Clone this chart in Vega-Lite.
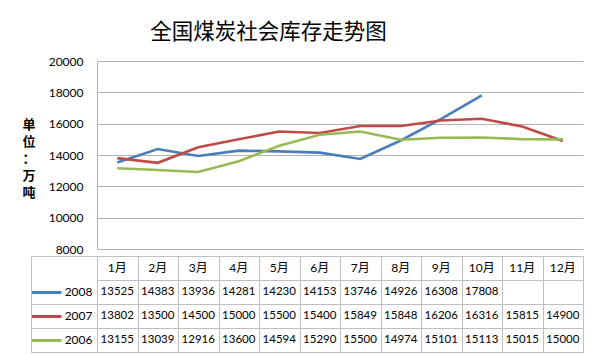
{
  "$schema": "https://vega.github.io/schema/vega-lite/v6.json",
  "background": "white",
  "padding": {"left": 22, "top": 21, "right": 12, "bottom": 4},
  "title": {"text": "全国煤炭社会库存走势图", "font": "Noto Sans CJK SC", "fontSize": 21.5, "fontWeight": "normal", "color": "#000000", "anchor": "middle", "dx": -34, "offset": 12},
  "spacing": 0,
  "config": {"view": {"stroke": null}, "font": "Lato"},
  "resolve": {"scale": {"x": "independent", "y": "independent"}},
  "data": {"values": [
    {"series": "2008", "month": "1月", "value": 13525},
    {"series": "2008", "month": "2月", "value": 14383},
    {"series": "2008", "month": "3月", "value": 13936},
    {"series": "2008", "month": "4月", "value": 14281},
    {"series": "2008", "month": "5月", "value": 14230},
    {"series": "2008", "month": "6月", "value": 14153},
    {"series": "2008", "month": "7月", "value": 13746},
    {"series": "2008", "month": "8月", "value": 14926},
    {"series": "2008", "month": "9月", "value": 16308},
    {"series": "2008", "month": "10月", "value": 17808},
    {"series": "2007", "month": "1月", "value": 13802},
    {"series": "2007", "month": "2月", "value": 13500},
    {"series": "2007", "month": "3月", "value": 14500},
    {"series": "2007", "month": "4月", "value": 15000},
    {"series": "2007", "month": "5月", "value": 15500},
    {"series": "2007", "month": "6月", "value": 15400},
    {"series": "2007", "month": "7月", "value": 15849},
    {"series": "2007", "month": "8月", "value": 15848},
    {"series": "2007", "month": "9月", "value": 16206},
    {"series": "2007", "month": "10月", "value": 16316},
    {"series": "2007", "month": "11月", "value": 15815},
    {"series": "2007", "month": "12月", "value": 14900},
    {"series": "2006", "month": "1月", "value": 13155},
    {"series": "2006", "month": "2月", "value": 13039},
    {"series": "2006", "month": "3月", "value": 12916},
    {"series": "2006", "month": "4月", "value": 13600},
    {"series": "2006", "month": "5月", "value": 14594},
    {"series": "2006", "month": "6月", "value": 15290},
    {"series": "2006", "month": "7月", "value": 15500},
    {"series": "2006", "month": "8月", "value": 14974},
    {"series": "2006", "month": "9月", "value": 15101},
    {"series": "2006", "month": "10月", "value": 15113},
    {"series": "2006", "month": "11月", "value": 15015},
    {"series": "2006", "month": "12月", "value": 15000}
  ]},
  "vconcat": [
    {
      "width": 486,
      "height": 188,
      "mark": {"type": "line", "strokeWidth": 2.6},
      "encoding": {
        "x": {"field": "month", "type": "nominal",
              "scale": {"type": "band", "domain": ["1月","2月","3月","4月","5月","6月","7月","8月","9月","10月","11月","12月"], "paddingInner": 0, "paddingOuter": 0},
              "axis": null},
        "y": {"field": "value", "type": "quantitative",
              "scale": {"domain": [8000, 20000], "nice": false, "zero": false},
              "axis": {"values": [8000, 10000, 12000, 14000, 16000, 18000, 20000], "format": "d", "grid": true, "gridColor": "#b3b3b3", "domainColor": "#b3b3b3", "ticks": false, "labelPadding": 14, "labelFont": "Lato", "labelFontSize": 12, "labelColor": "#000000",
                       "title": ["单", "位", "：", "万", "吨"], "titleAngle": 0, "titleX": -75, "titleY": 63, "titleAlign": "left", "titleBaseline": "middle", "titleFont": "Noto Sans CJK SC", "titleFontSize": 13, "titleFontWeight": "bold", "titleLineHeight": 17, "titleColor": "#000000"}},
        "color": {"field": "series", "type": "nominal",
                  "scale": {"domain": ["2008", "2007", "2006"], "range": ["#4a7ebb", "#be4b48", "#98b954"]},
                  "legend": null}
      }
    },
    {
      "width": 486,
      "height": 96,
      "layer": [
        {
          "mark": {"type": "text", "font": "Lato", "fontSize": 11.5, "color": "#000000"},
          "encoding": {
            "x": {"field": "month", "type": "nominal",
                  "scale": {"type": "band", "domain": ["1月","2月","3月","4月","5月","6月","7月","8月","9月","10月","11月","12月"], "paddingInner": 0, "paddingOuter": 0},
                  "axis": {"grid": true, "tickBand": "extent", "labels": false, "ticks": false, "domain": false, "gridColor": "#bfbfbf", "title": null}},
            "y": {"field": "series", "type": "nominal",
                  "scale": {"type": "band", "domain": ["h", "2008", "2007", "2006"], "paddingInner": 0, "paddingOuter": 0},
                  "axis": {"orient": "left", "offset": 66, "title": null, "grid": false, "domain": true, "domainColor": "#bfbfbf", "ticks": true, "tickSize": -30, "tickWidth": 3,
                           "tickColor": {"condition": [{"test": "datum.value == '2008'", "value": "#4a7ebb"}, {"test": "datum.value == '2007'", "value": "#be4b48"}, {"test": "datum.value == '2006'", "value": "#98b954"}], "value": "transparent"},
                           "labelExpr": "datum.value == 'h' ? '' : datum.value", "labelPadding": -31, "labelFont": "Lato", "labelFontSize": 12, "labelColor": "#000000"}},
            "text": {"field": "value", "type": "quantitative", "format": "d"}
          }
        },
        {
          "transform": [{"filter": "datum.series == '2006'"}],
          "mark": {"type": "text", "font": "Lato, Noto Sans CJK SC", "fontSize": 12, "color": "#000000"},
          "encoding": {
            "x": {"field": "month", "type": "nominal"},
            "y": {"datum": "h", "type": "nominal",
                  "axis": {"orient": "right", "grid": true, "tickBand": "extent", "labels": false, "ticks": false, "domain": false, "gridColor": "#bfbfbf", "title": null}},
            "text": {"field": "month", "type": "nominal"}
          }
        },
        {
          "mark": {"type": "point", "opacity": 0},
          "encoding": {
            "x": {"field": "month", "type": "nominal"},
            "y": {"field": "series", "type": "nominal",
                  "axis": {"orient": "left", "offset": 66, "title": null, "grid": false, "domain": false, "labels": false, "ticks": true, "tickBand": "extent", "tickSize": -66, "tickWidth": 1,
                           "tickColor": {"condition": {"test": "datum.value == 'h'", "value": "transparent"}, "value": "#bfbfbf"}}}
          }
        }
      ],
      "resolve": {"axis": {"y": "independent"}}
    }
  ]
}
